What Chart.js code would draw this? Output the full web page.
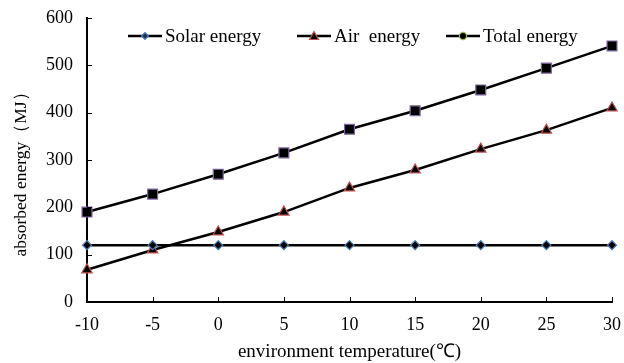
<!DOCTYPE html>
<html>
<head>
<meta charset="utf-8">
<script src="https://cdn.jsdelivr.net/npm/chart.js@4/dist/chart.umd.min.js"></script>
<style>
html, body { margin: 0; padding: 0; background: #fff; }
</style>
</head>
<body>
<canvas id="energy-chart" width="624" height="363"></canvas>
<script>
// data
const temperature = [-10, -5, 0, 5, 10, 15, 20, 25, 30];
const solarEnergy = [120, 120, 120, 120, 120, 120, 120, 120, 120];
const airEnergy = [68, 110, 148, 190, 241, 279, 323, 363, 410];
const totalEnergy = [190, 228, 270, 315, 365, 404, 448, 494, 541];
const seriesNames = ['Solar energy', 'Air  energy', 'Total energy'];
const yTitle = 'absorbed energy\uFF08MJ\uFF09';
const xTitle = 'environment temperature(\u2103)';

const serif = 'Liberation Serif';

function toPoints(ys) {
    return temperature.map((t, i) => ({x: t, y: ys[i]}));
}

// legend icon: short line with a marker in the middle
function drawLegendIcon(ctx, kind, fill, stroke, x, y) {
    ctx.save();
    ctx.strokeStyle = '#000';
    ctx.lineWidth = 2.5;
    ctx.beginPath();
    ctx.moveTo(x, y);
    ctx.lineTo(x + 34, y);
    ctx.stroke();
    const cx = x + 17;
    ctx.fillStyle = fill;
    ctx.strokeStyle = stroke;
    ctx.lineWidth = 1.2;
    ctx.beginPath();
    if (kind === 'diamond') {
        ctx.moveTo(cx, y - 3.5); ctx.lineTo(cx + 3.5, y); ctx.lineTo(cx, y + 3.5); ctx.lineTo(cx - 3.5, y); ctx.closePath();
    } else if (kind === 'triangle') {
        ctx.moveTo(cx, y - 4.5); ctx.lineTo(cx + 4.5, y + 3.5); ctx.lineTo(cx - 4.5, y + 3.5); ctx.closePath();
    } else {
        ctx.arc(cx, y, 3.6, 0, Math.PI * 2);
    }
    ctx.fill();
    ctx.stroke();
    ctx.restore();
}

const legendMarkers = [
    ['diamond', '#1f2f4a', '#4a7ebb'],
    ['triangle', '#000', '#c0504d'],
    ['circle', '#000', '#9bbb59']
];

// legend drawn inside the plot, in one row
const rowLegend = {
    id: 'rowLegend',
    afterDraw(chart, args, opts) {
        const ctx = chart.ctx;
        ctx.save();
        ctx.font = '19px ' + serif;
        ctx.fillStyle = '#000';
        ctx.textBaseline = 'middle';
        chart.data.datasets.forEach((ds, i) => {
            const x = opts.xs[i];
            const m = legendMarkers[i];
            drawLegendIcon(ctx, m[0], m[1], m[2], x, opts.y);
            ctx.fillText(ds.label, x + 37, opts.y + 1);
        });
        ctx.restore();
    }
};

// y title sits a bit below the middle of the axis, so draw it by hand
const sideTitle = {
    id: 'sideTitle',
    afterDraw(chart, args, opts) {
        const ctx = chart.ctx;
        ctx.save();
        ctx.translate(opts.x, opts.y);
        ctx.rotate(-Math.PI / 2);
        ctx.font = '17.5px ' + serif;
        ctx.fillStyle = '#000';
        ctx.textAlign = 'center';
        ctx.textBaseline = 'middle';
        ctx.fillText(yTitle, 0, 0);
        ctx.restore();
    }
};

// ticks drawn inside the axes
const innerTicks = {
    id: 'innerTicks',
    afterDraw(chart) {
        const ctx = chart.ctx;
        const xs = chart.scales.x;
        const ys = chart.scales.y;
        ctx.save();
        ctx.strokeStyle = '#000';
        ctx.lineWidth = 1;
        ctx.beginPath();
        xs.ticks.forEach(t => {
            const px = Math.round(xs.getPixelForValue(t.value)) + 0.5;
            ctx.moveTo(px, ys.bottom);
            ctx.lineTo(px, ys.bottom - 5);
        });
        ys.ticks.forEach(t => {
            const py = Math.round(ys.getPixelForValue(t.value)) + 0.5;
            ctx.moveTo(xs.left, py);
            ctx.lineTo(xs.left + 5, py);
        });
        ctx.stroke();
        ctx.restore();
    }
};

function noOverhang(scale) {
    scale.paddingLeft = 0;
    scale.paddingRight = 0;
    scale.paddingTop = 0;
    scale.paddingBottom = 0;
}

const energyChart = new Chart(document.querySelector('#energy-chart').getContext('2d'), {
    type: 'line',
    data: {
        datasets: [
            {
                label: seriesNames[0],
                data: toPoints(solarEnergy),
                borderColor: '#000',
                borderWidth: 2.5,
                pointStyle: 'rectRot',
                pointRadius: 4.5,
                pointBackgroundColor: '#000',
                pointBorderColor: '#4a7ebb',
                pointBorderWidth: 1.2,
                clip: false
            },
            {
                label: seriesNames[1],
                data: toPoints(airEnergy),
                borderColor: '#000',
                borderWidth: 2.5,
                pointStyle: 'triangle',
                pointRadius: 6,
                pointBackgroundColor: '#000',
                pointBorderColor: '#c0504d',
                pointBorderWidth: 1.2,
                clip: false
            },
            {
                label: seriesNames[2],
                data: toPoints(totalEnergy),
                borderColor: '#000',
                borderWidth: 2.5,
                pointStyle: 'rect',
                pointRadius: 7,
                pointBackgroundColor: '#000',
                pointBorderColor: '#8064a2',
                pointBorderWidth: 1.2,
                clip: false
            }
        ]
    },
    options: {
        responsive: false,
        animation: false,
        layout: {
            padding: {top: 18, right: 12, left: 0, bottom: 0}
        },
        plugins: {
            tooltip: {enabled: false},
            legend: {display: false},
            rowLegend: {xs: [128, 297, 446], y: 36},
            sideTitle: {x: 21, y: 170}
        },
        scales: {
            x: {
                type: 'linear',
                min: -10,
                max: 30,
                ticks: {
                    stepSize: 5,
                    color: '#000',
                    padding: 12,
                    font: {family: serif, size: 18}
                },
                grid: {display: true, drawOnChartArea: false, drawTicks: false},
                border: {color: '#000', width: 2},
                title: {
                    display: true,
                    text: xTitle,
                    color: '#000',
                    font: {family: serif, size: 19},
                    padding: {top: 4, bottom: 0}
                },
                afterFit(scale) {
                    scale.height = 61;
                    noOverhang(scale);
                }
            },
            y: {
                min: 0,
                max: 600,
                ticks: {
                    stepSize: 100,
                    color: '#000',
                    padding: 14,
                    font: {family: serif, size: 18}
                },
                grid: {display: true, drawOnChartArea: false, drawTicks: false},
                border: {color: '#000', width: 2},
                afterFit(scale) {
                    scale.width = 87;
                    noOverhang(scale);
                }
            }
        }
    },
    plugins: [innerTicks, rowLegend, sideTitle]
});
</script>
</body>
</html>
